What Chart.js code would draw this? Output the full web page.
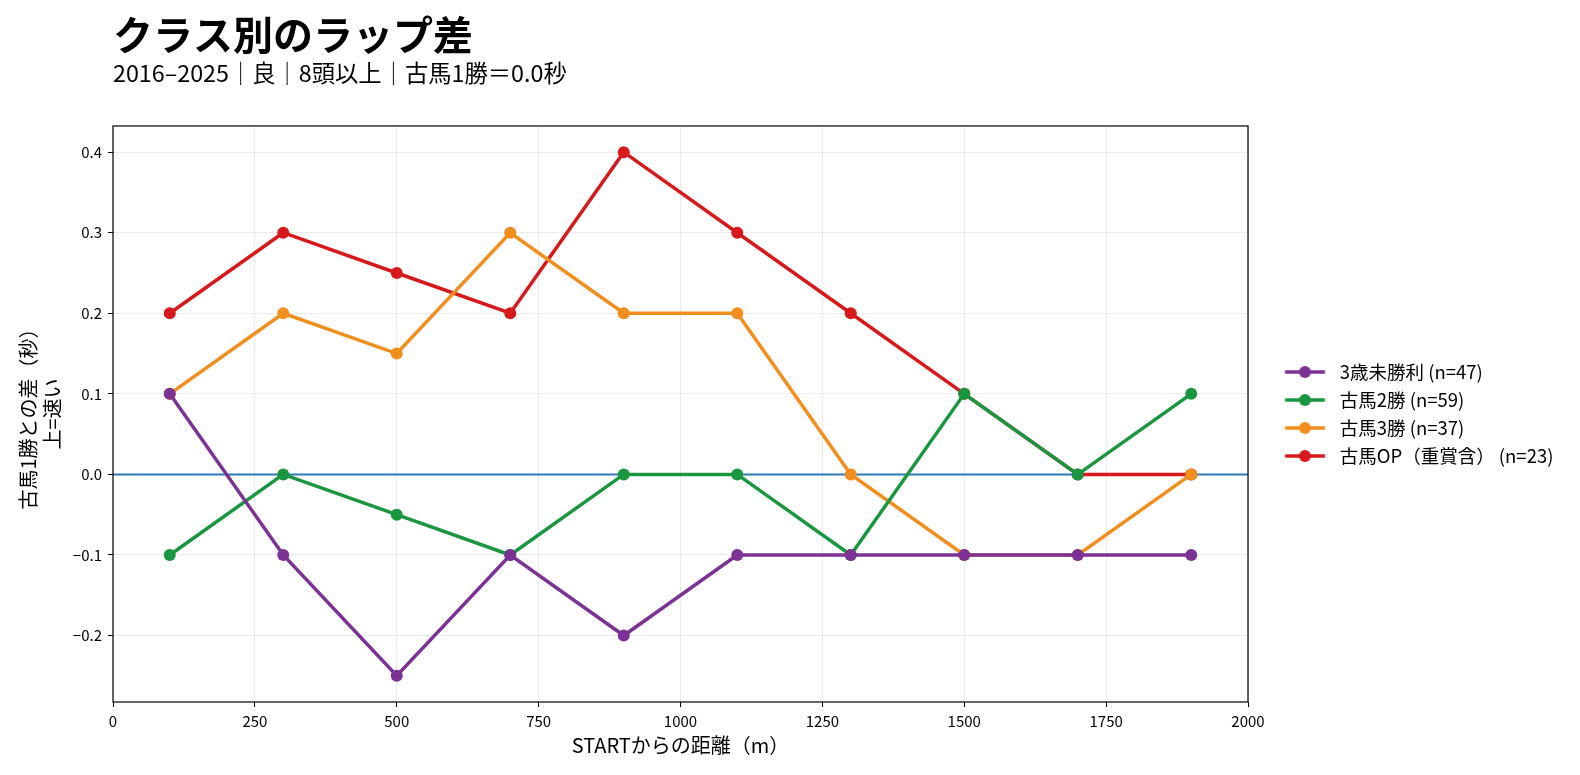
<!DOCTYPE html>
<html>
<head>
<meta charset="utf-8">
<script src="https://cdn.jsdelivr.net/npm/chart.js@4.4.1/dist/chart.umd.min.js"></script>
<style>
  html, body { margin: 0; padding: 0; background: #fff; }
  #wrap { width: 1580px; height: 775px; }
</style>
</head>
<body>
<div id="wrap"><canvas id="myChart" width="1580" height="775"></canvas></div>
<script>
  'use strict'

  // data
  const distances = [100, 300, 500, 700, 900, 1100, 1300, 1500, 1700, 1900]
  const maiden3 = [0.1, -0.1, -0.25, -0.1, -0.2, -0.1, -0.1, -0.1, -0.1, -0.1]
  const win2 = [-0.1, 0.0, -0.05, -0.1, 0.0, 0.0, -0.1, 0.1, 0.0, 0.1]
  const win3 = [0.1, 0.2, 0.15, 0.3, 0.2, 0.2, 0.0, -0.1, -0.1, 0.0]
  const open = [0.2, 0.3, 0.25, 0.2, 0.4, 0.3, 0.2, 0.1, 0.0, 0.0]
  const seriesNames = ['3歳未勝利 (n=47)', '古馬2勝 (n=59)', '古馬3勝 (n=37)', '古馬OP（重賞含） (n=23)']
  const xTicks = [0, 250, 500, 750, 1000, 1250, 1500, 1750, 2000]
  const yTicks = [-0.2, -0.1, 0.0, 0.1, 0.2, 0.3, 0.4]

  const colors = ['#7b3294', '#1a9641', '#f28e1e', '#d7191c']
  const FONT = "'Noto Sans CJK JP', 'Noto Sans', sans-serif"

  // legend icon: short line with a dot (left part of the canvas left blank as a gap)
  function legendIcon (color) {
    const c = document.createElement('canvas')
    c.width = 73
    c.height = 14
    const g = c.getContext('2d')
    g.strokeStyle = color
    g.lineWidth = 3.5
    g.beginPath()
    g.moveTo(27.5, 7)
    g.lineTo(67.5, 7)
    g.stroke()
    g.fillStyle = color
    g.beginPath()
    g.arc(47.5, 7, 6, 0, Math.PI * 2)
    g.fill()
    return c
  }

  const toXY = vals => vals.map((v, i) => ({ x: distances[i], y: v }))

  const zeroLine = {
    id: 'zeroLine',
    beforeDatasetsDraw (chart) {
      const { ctx, chartArea, scales } = chart
      const y = scales.y.getPixelForValue(0)
      ctx.save()
      ctx.strokeStyle = '#2c7bb6'
      ctx.lineWidth = 2
      ctx.beginPath()
      ctx.moveTo(chartArea.left, y)
      ctx.lineTo(chartArea.right, y)
      ctx.stroke()
      ctx.restore()
    }
  }

  const frame = {
    id: 'frame',
    afterDraw (chart) {
      const { ctx, chartArea } = chart
      ctx.save()
      ctx.strokeStyle = '#000'
      ctx.lineWidth = 1.2
      ctx.strokeRect(chartArea.left, chartArea.top, chartArea.right - chartArea.left, chartArea.bottom - chartArea.top)
      ctx.restore()
    }
  }

  // keep the legend column a fixed width so the plot ends where the reference does
  const legendWidth = {
    id: 'legendWidth',
    beforeLayout (chart) {
      const lg = chart.legend
      if (lg && !lg._fixedWidth) {
        const fit = lg.fit
        lg.fit = function () {
          fit.call(this)
          this.width = 332
        }
        lg._fixedWidth = true
      }
    }
  }

  const allSeries = [maiden3, win2, win3, open]
  const datasets = allSeries.map((vals, i) => ({
    label: seriesNames[i],
    data: toXY(vals),
    borderColor: colors[i],
    backgroundColor: colors[i],
    pointBackgroundColor: colors[i],
    pointBorderWidth: 0,
    pointRadius: 6,
    pointHoverRadius: 6,
    borderWidth: 3.5,
    tension: 0,
    pointStyle: 'circle'
  }))

  const icons = colors.map(legendIcon)

  // eslint-disable-next-line no-unused-vars
  const myChart = new Chart(document.getElementById('myChart'), {
    type: 'line',
    data: { datasets },
    plugins: [legendWidth, zeroLine, frame],
    options: {
      responsive: false,
      animation: false,
      events: [],
      layout: { padding: { left: 14, right: 0, top: 10, bottom: 14 } },
      plugins: {
        title: {
          display: true,
          text: 'クラス別のラップ差',
          align: 'start',
          fullSize: false,
          color: '#000',
          font: { family: FONT, size: 40, weight: 'bold', lineHeight: 1.2 },
          padding: { top: 1, bottom: 0 }
        },
        subtitle: {
          display: true,
          text: '2016–2025｜良｜8頭以上｜古馬1勝＝0.0秒',
          align: 'start',
          fullSize: false,
          color: '#000',
          font: { family: FONT, size: 23.3, lineHeight: 1.2 },
          padding: { top: 0, bottom: 39 }
        },
        legend: {
          position: 'right',
          align: 'center',
          fullSize: false,
          labels: {
            color: '#000',
            font: { family: FONT, size: 18.5 },
            usePointStyle: true,
            pointStyleWidth: 73,
            boxHeight: 14,
            padding: 9.5,
            generateLabels (chart) {
              return chart.data.datasets.map((ds, i) => ({
                text: ds.label,
                pointStyle: icons[i],
                fillStyle: colors[i],
                strokeStyle: colors[i],
                lineWidth: 0,
                datasetIndex: i,
                hidden: false
              }))
            }
          }
        },
        tooltip: { enabled: false }
      },
      scales: {
        x: {
          type: 'linear',
          min: 0,
          max: 2000,
          afterBuildTicks (scale) { scale.ticks = xTicks.map(v => ({ value: v })) },
          afterFit (scale) { scale.height = 59 },
          grid: { color: 'rgba(0,0,0,0.08)', tickColor: '#000', tickLength: 5 },
          border: { display: false },
          ticks: {
            color: '#000',
            font: { family: FONT, size: 15, lineHeight: 1.2 },
            padding: 5,
            maxRotation: 0,
            callback: v => String(v)
          },
          title: {
            display: true,
            text: 'STARTからの距離（m）',
            color: '#000',
            font: { family: FONT, size: 20, lineHeight: 1.2 },
            padding: { top: 3, bottom: 4 }
          }
        },
        y: {
          type: 'linear',
          min: -0.2825,
          max: 0.4325,
          afterBuildTicks (scale) { scale.ticks = yTicks.map(v => ({ value: v })) },
          afterFit (scale) { scale.width = 99 },
          grid: { color: 'rgba(0,0,0,0.08)', tickColor: '#000', tickLength: 5 },
          border: { display: false },
          ticks: {
            color: '#000',
            font: { family: FONT, size: 15 },
            padding: 6,
            callback: v => (Math.abs(v) < 1e-9 ? '0.0' : v.toFixed(1).replace('-', '−'))
          },
          title: {
            display: true,
            text: ['古馬1勝との差（秒）', '上=速い'],
            color: '#000',
            font: { family: FONT, size: 20, lineHeight: 1.2 },
            padding: { top: 2, bottom: 0 }
          }
        }
      }
    }
  })
</script>
</body>
</html>
